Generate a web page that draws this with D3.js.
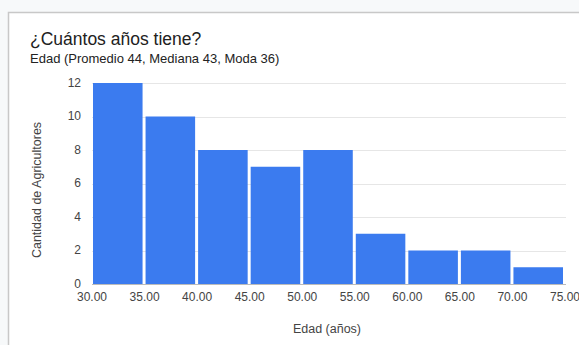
<!DOCTYPE html>
<html><head><meta charset="utf-8">
<script src="https://cdn.jsdelivr.net/npm/d3@7"></script>
<style>
html,body{margin:0;padding:0;background:#f7f9fa;}
svg{display:block;font-family:Arial,"Liberation Sans",sans-serif;}
</style></head>
<body>
<svg id="c" width="579" height="345"></svg>
<script>
const binStarts = [30,35,40,45,50,55,60,65,70];
const binEnds   = [35,40,45,50,55,60,65,70,75];
const counts    = [12,10,8,7,8,3,2,2,1];
const xTicks    = [30,35,40,45,50,55,60,65,70,75];
const yTicks    = [0,2,4,6,8,10,12];
const title = "¿Cuántos años tiene?";
const subtitle = "Edad (Promedio 44, Mediana 43, Moda 36)";
const xTitle = "Edad (años)";
const yTitle = "Cantidad de Agricultores";

const svg = d3.select("#c");
// card
svg.append("rect").attr("x",8.5).attr("y",12.5).attr("width",600).attr("height",400)
  .attr("fill","#fff").attr("stroke","#c8c8c8").attr("stroke-width",1.5);

const x = d3.scaleLinear().domain([30,75]).range([92,565]);
const y = d3.scaleLinear().domain([0,12]).range([284,83]);

const g = svg.append("g");
// gridlines
g.selectAll("line.grid").data(yTicks).join("line")
  .attr("x1",x(30)).attr("x2",x(75)+1)
  .attr("y1",d=>Math.round(y(d))+0.5).attr("y2",d=>Math.round(y(d))+0.5)
  .attr("stroke",d=>d===0?"#bbb":"#e6e6e6").attr("stroke-width",1);

// bars
g.selectAll("rect.bar").data(counts).join("rect")
  .attr("x",(d,i)=>x(binStarts[i])+1)
  .attr("width",(d,i)=>x(binEnds[i])-x(binStarts[i])-3)
  .attr("y",d=>y(d))
  .attr("height",d=>y(0)-y(d))
  .attr("fill","#3b7bef");

// y ticks
svg.selectAll("text.yt").data(yTicks).join("text")
  .attr("x",81).attr("y",d=>y(d)+3.5)
  .attr("text-anchor","end").attr("font-size",12).attr("fill","#444")
  .text(d=>d);
// x ticks
svg.selectAll("text.xt").data(xTicks).join("text")
  .attr("x",d=>x(d)).attr("y",301)
  .attr("text-anchor","middle").attr("font-size",12).attr("fill","#444")
  .text(d=>d3.format(".2f")(d));

svg.append("text").attr("x",30).attr("y",45).attr("font-size",17.5).attr("fill","#212121").text(title);
svg.append("text").attr("x",30).attr("y",63).attr("font-size",13).attr("fill","#222").text(subtitle);
svg.append("text").attr("x",327).attr("y",333).attr("text-anchor","middle")
  .attr("font-size",12.5).attr("fill","#444").text(xTitle);
svg.append("text").attr("transform","translate(41,190) rotate(-90)")
  .attr("text-anchor","middle").attr("font-size",12.5).attr("fill","#444").text(yTitle);
</script>
</body></html>
